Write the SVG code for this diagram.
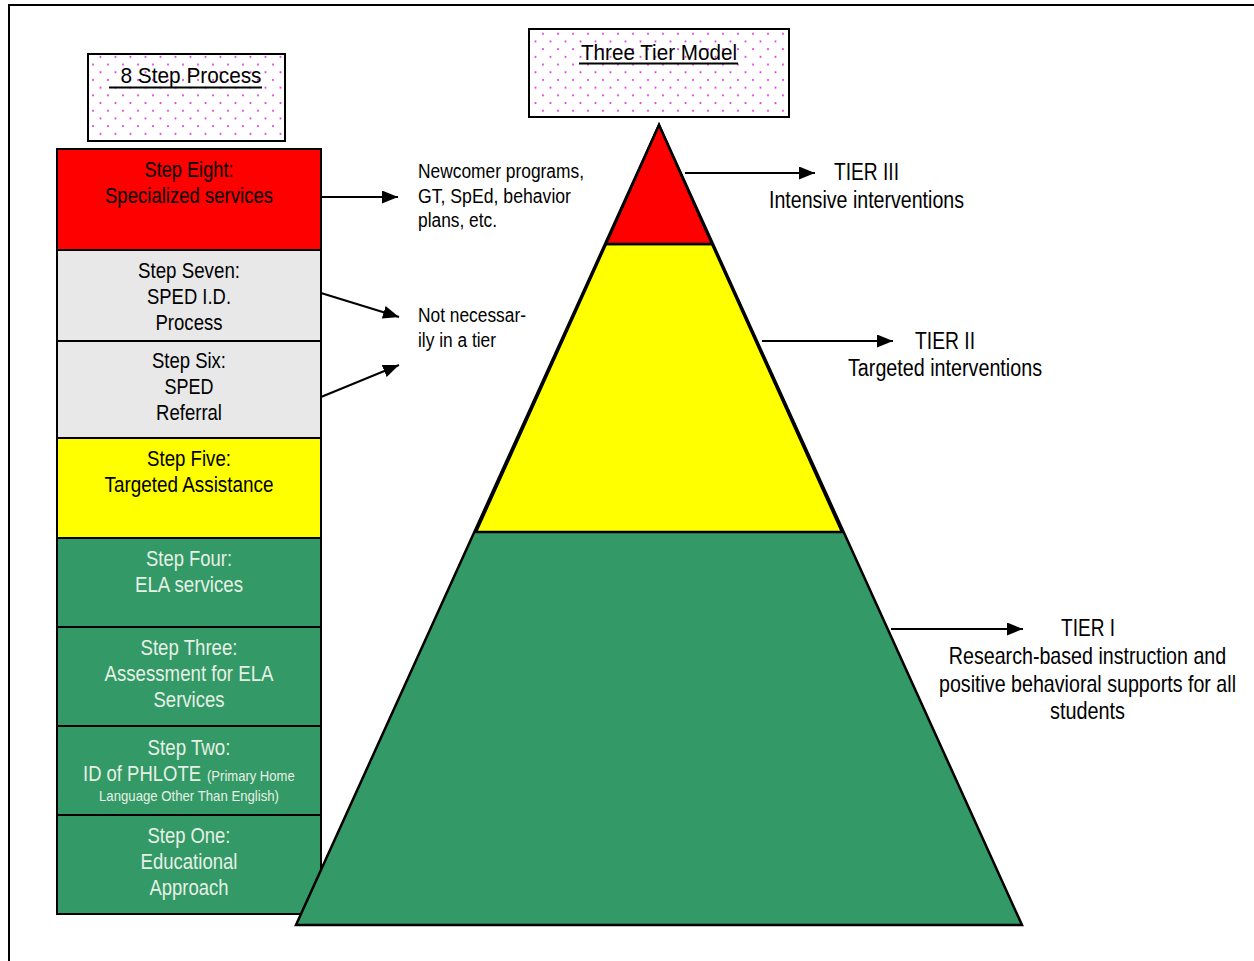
<svg xmlns="http://www.w3.org/2000/svg" width="1254" height="961" viewBox="0 0 1254 961">
<defs>
<pattern id="dots" patternUnits="userSpaceOnUse" x="0" y="0" width="15" height="15.4">
<rect width="15" height="15.4" fill="#ffffff"/>
<circle cx="3" cy="3" r="1.1" fill="#e040e0"/>
<circle cx="10.5" cy="10.7" r="1.1" fill="#e040e0"/>
</pattern>
<marker id="ah" markerUnits="userSpaceOnUse" markerWidth="17" markerHeight="14" refX="16" refY="6.5" orient="auto">
<path d="M0,0 L16,6.5 L0,13 z" fill="#000"/>
</marker>
</defs>
<style>
text{font-family:"Liberation Sans Narrow","Liberation Sans",Arial,sans-serif;}
.t{font-size:22px;text-anchor:middle;}
.dk{fill:#000;}
.lt{fill:#e6f0e6;}
.box{stroke:#000;stroke-width:2;}
.hdr{fill:url(#dots);stroke:#000;stroke-width:2;}
.r{font-size:20px;fill:#000;}
.tier{font-size:23px;fill:#000;text-anchor:middle;}
.conn line{stroke:#000;stroke-width:2;marker-end:url(#ah);}
.pyr{stroke:#000;stroke-width:2.5;stroke-linejoin:miter;}
</style>
<rect x="9" y="5" width="1300" height="1000" fill="#fff" stroke="#000" stroke-width="2"/>

<g id="header-8step">
<rect x="88" y="54" width="197" height="87" class="hdr"/>
<text x="191" y="83" class="t dk" textLength="141" lengthAdjust="spacingAndGlyphs">8 Step Process</text>
<line x1="109" y1="87.5" x2="262" y2="87.5" stroke="#000" stroke-width="2"/>
</g>

<g id="header-3tier">
<rect x="529" y="29" width="260" height="88" class="hdr"/>
<text x="659" y="59.5" class="t dk" textLength="156" lengthAdjust="spacingAndGlyphs">Three Tier Model</text>
<line x1="579" y1="63.5" x2="738" y2="63.5" stroke="#000" stroke-width="2"/>
</g>

<g id="step8">
<rect x="57" y="149" width="264" height="101" fill="#ff0000" class="box"/>
<text x="189" y="177" class="t dk" textLength="89" lengthAdjust="spacingAndGlyphs">Step Eight:</text>
<text x="189" y="203" class="t dk" textLength="168" lengthAdjust="spacingAndGlyphs">Specialized services</text>
</g>
<g id="step7">
<rect x="57" y="250" width="264" height="91" fill="#e8e8e8" class="box"/>
<text x="189" y="278" class="t dk" textLength="102" lengthAdjust="spacingAndGlyphs">Step Seven:</text>
<text x="189" y="304" class="t dk" textLength="84" lengthAdjust="spacingAndGlyphs">SPED I.D.</text>
<text x="189" y="330" class="t dk" textLength="67" lengthAdjust="spacingAndGlyphs">Process</text>
</g>
<g id="step6">
<rect x="57" y="341" width="264" height="97" fill="#e8e8e8" class="box"/>
<text x="189" y="368" class="t dk" textLength="74" lengthAdjust="spacingAndGlyphs">Step Six:</text>
<text x="189" y="394" class="t dk" textLength="49" lengthAdjust="spacingAndGlyphs">SPED</text>
<text x="189" y="420" class="t dk" textLength="66" lengthAdjust="spacingAndGlyphs">Referral</text>
</g>
<g id="step5">
<rect x="57" y="438" width="264" height="100" fill="#ffff00" class="box"/>
<text x="189" y="466" class="t dk" textLength="84" lengthAdjust="spacingAndGlyphs">Step Five:</text>
<text x="189" y="492" class="t dk" textLength="169" lengthAdjust="spacingAndGlyphs">Targeted Assistance</text>
</g>
<g id="step4">
<rect x="57" y="538" width="264" height="89" fill="#339966" class="box"/>
<text x="189" y="566" class="t lt" textLength="86" lengthAdjust="spacingAndGlyphs">Step Four:</text>
<text x="189" y="592" class="t lt" textLength="108" lengthAdjust="spacingAndGlyphs">ELA services</text>
</g>
<g id="step3">
<rect x="57" y="627" width="264" height="99" fill="#339966" class="box"/>
<text x="189" y="655" class="t lt" textLength="97" lengthAdjust="spacingAndGlyphs">Step Three:</text>
<text x="189" y="681" class="t lt" textLength="169" lengthAdjust="spacingAndGlyphs">Assessment for ELA</text>
<text x="189" y="707" class="t lt" textLength="71" lengthAdjust="spacingAndGlyphs">Services</text>
</g>
<g id="step2">
<rect x="57" y="726" width="264" height="89" fill="#339966" class="box"/>
<text x="189" y="755" class="t lt" textLength="83" lengthAdjust="spacingAndGlyphs">Step Two:</text>
<text transform="translate(83,781) scale(0.84,1)" class="lt" style="font-size:22px">ID of PHLOTE</text>
<text transform="translate(207,781) scale(0.87,1)" class="lt" style="font-size:15px">(Primary Home</text>
<text x="189" y="801" class="t lt" style="font-size:15px" textLength="180" lengthAdjust="spacingAndGlyphs">Language Other Than English)</text>
</g>
<g id="step1">
<rect x="57" y="815" width="264" height="99" fill="#339966" class="box"/>
<text x="189" y="843" class="t lt" textLength="83" lengthAdjust="spacingAndGlyphs">Step One:</text>
<text x="189" y="869" class="t lt" textLength="97" lengthAdjust="spacingAndGlyphs">Educational</text>
<text x="189" y="895" class="t lt" textLength="79" lengthAdjust="spacingAndGlyphs">Approach</text>
</g>

<g id="pyramid">
<polygon class="pyr" fill="#339966" points="659,125 1022,925 296,925"/>
<polygon class="pyr" fill="#ffff00" points="606,244 712,244 842,532 476,532"/>
<polygon class="pyr" fill="#ff0000" points="659,125 712,244 606,244"/>
</g>

<g id="note-specialized">
<text x="418" y="178" class="r" textLength="166" lengthAdjust="spacingAndGlyphs">Newcomer programs,</text>
<text x="418" y="203" class="r" textLength="153" lengthAdjust="spacingAndGlyphs">GT, SpEd, behavior</text>
<text x="418" y="227" class="r" textLength="79" lengthAdjust="spacingAndGlyphs">plans, etc.</text>
</g>
<g id="note-tier">
<text x="418" y="322" class="r" textLength="108" lengthAdjust="spacingAndGlyphs">Not necessar-</text>
<text x="418" y="347" class="r" textLength="78" lengthAdjust="spacingAndGlyphs">ily in a tier</text>
</g>
<g id="tier3">
<text x="866.5" y="180" class="tier" textLength="65" lengthAdjust="spacingAndGlyphs">TIER III</text>
<text x="866.5" y="208" class="tier" textLength="195" lengthAdjust="spacingAndGlyphs">Intensive interventions</text>
</g>
<g id="tier2">
<text x="945" y="349" class="tier" textLength="60" lengthAdjust="spacingAndGlyphs">TIER II</text>
<text x="945" y="376" class="tier" textLength="194" lengthAdjust="spacingAndGlyphs">Targeted interventions</text>
</g>
<g id="tier1">
<text x="1088" y="636" class="tier" textLength="54" lengthAdjust="spacingAndGlyphs">TIER I</text>
<text transform="translate(1087.5,664) scale(0.855,1)" class="tier">Research-based instruction and</text>
<text transform="translate(1087.5,692) scale(0.855,1)" class="tier">positive behavioral supports for all</text>
<text x="1087.5" y="719" class="tier" textLength="75" lengthAdjust="spacingAndGlyphs">students</text>
</g>

<g id="connectors" class="conn">
<line x1="321" y1="197" x2="398" y2="197"/>
<line x1="321" y1="293" x2="399" y2="317"/>
<line x1="321" y1="397" x2="399" y2="365"/>
<line x1="685" y1="173" x2="815" y2="173"/>
<line x1="762" y1="341" x2="893" y2="341"/>
<line x1="891" y1="629" x2="1023" y2="629"/>
</g>
</svg>
